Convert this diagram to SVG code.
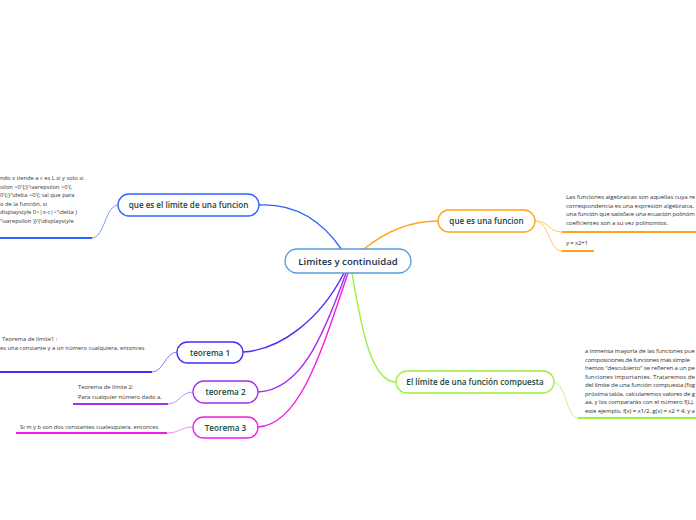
<svg xmlns="http://www.w3.org/2000/svg" width="696" height="520" viewBox="0 0 696 520">
<style>
.node{fill:#fff;stroke-width:1.3}
.lbl{font-family:"Open Sans",sans-serif;font-weight:600;font-size:8.1px;fill:#17483a;text-anchor:middle}
.sm{font-family:"Open Sans",sans-serif;font-size:5.8px;fill:#333}
.rt{font-size:6.1px}
.c{fill:none;stroke-linecap:round}
.ul{fill:none;stroke-width:2}
</style>
<rect width="696" height="520" fill="#fff"/>
<g id="connectors">
<path class="c" d="M259,205 C300,203 325,225 342,250" stroke="#2f63ff" stroke-width="1.4"/>
<path class="c" d="M364,249 C385,232 410,221 438,221" stroke="#ffa31a" stroke-width="1.4"/>
<path class="c" d="M352,273 C360,320 370,382 396,382" stroke="#9bf03c" stroke-width="1.4"/>
<path class="c" d="M344,273 C320,320 280,350 243,352" stroke="#4a2cf2" stroke-width="1.4"/>
<path class="c" d="M346,273 C322,340 300,390 258,392" stroke="#a62cf0" stroke-width="1.4"/>
<path class="c" d="M348,273 C322,350 300,425 258,427" stroke="#f01ee6" stroke-width="1.4"/>
<path class="c" d="M118,205 C105,205 105,238 92,238" stroke="#7b9bff" stroke-width="1"/>
<path class="c" d="M177,352 C165,352 164,372 152,372" stroke="#8a7bff" stroke-width="1"/>
<path class="c" d="M193,392 C180,392 180,404 168,404" stroke="#c98bff" stroke-width="1"/>
<path class="c" d="M193,427 C180,427 180,433 167,433" stroke="#f78bf2" stroke-width="1"/>
<path class="c" d="M535,221 C550,221 548,232 562,232" stroke="#ffc866" stroke-width="1"/>
<path class="c" d="M535,221 C550,221 548,251 562,251" stroke="#ffc866" stroke-width="1"/>
<path class="c" d="M554,382 C566,382 566,418 578,418" stroke="#c2f58a" stroke-width="1"/>
</g>
<g id="center">
<rect class="node" x="285" y="249" width="126" height="24" rx="12" stroke="#5a9be0"/>
<text x="348" y="264.5" class="lbl" style="font-size:9.6px;fill:#1b2c4c">Limites y continuidad</text>
</g>
<g id="n-limite">
<rect class="node" x="118" y="194" width="141" height="22" rx="11" stroke="#2f63ff"/>
<text x="188.5" y="208" class="lbl">que es el limite de una funcion</text>
<path class="ul" d="M0,238 H92" stroke="#2f63ff"/>
<text class="sm" x="0" y="180">ndo x tiende a c es L si y solo si</text>
<text class="sm" x="0" y="188.5">silon &gt;0'{;}'\varepsilon &gt;0'{,</text>
<text class="sm" x="0" y="197">0'{;}'\delta &gt;0'{; tal que para</text>
<text class="sm" x="0" y="205.5">o de la función, si</text>
<text class="sm" x="0" y="214">displaystyle 0&lt;|x-c|&lt;'\delta )</text>
<text class="sm" x="0" y="222.5">'\varepsilon )}'{\displaystyle</text>
</g>
<g id="n-funcion">
<rect class="node" x="438" y="210" width="97" height="22" rx="11" stroke="#ffa31a"/>
<text x="486.5" y="224" class="lbl">que es una funcion</text>
<path class="ul" d="M562,232 H696" stroke="#ffa31a"/>
<path class="ul" d="M562,251 H594" stroke="#ffa31a"/>
<text class="sm rt" x="566" y="199" textLength="129">Las funciones algebraicas son aquellas cuya re</text>
<text class="sm rt" x="566" y="207.5" textLength="128">correspondencia es una expresión algebraica,</text>
<text class="sm rt" x="566" y="216" textLength="129">una función que satisface una ecuación polinóm</text>
<text class="sm rt" x="566" y="224.5" textLength="102">coeficientes son a su vez polinomios.</text>
<text class="sm rt" x="566" y="245" textLength="22">y = x2+1</text>
</g>
<g id="n-compuesta">
<rect class="node" x="396" y="371" width="158" height="22" rx="11" stroke="#9bf03c"/>
<text x="475" y="385" class="lbl">El límite de una función compuesta</text>
<path class="ul" d="M578,418 H696" stroke="#9bf03c"/>
<text class="sm rt" x="585" y="353" textLength="110">a inmensa mayoría de las funciones pue</text>
<text class="sm rt" x="585" y="361.5" textLength="105">composiciones de funciones más simple</text>
<text class="sm rt" x="585" y="370" textLength="110">hemos "descubierto" se refieren a un pe</text>
<text class="sm rt" x="585" y="378.5" textLength="110">funciones importantes.   Trataremos de</text>
<text class="sm rt" x="585" y="387" textLength="110">del límite de una función compuesta (fog</text>
<text class="sm rt" x="585" y="395.5" textLength="110">próxima tabla, calcularemos valores de g</text>
<text class="sm rt" x="585" y="404" textLength="109">aa, y los compararás con el número f(L),</text>
<text class="sm rt" x="585" y="412.5" textLength="110">este ejemplo, f(x) = x1/2, g(x) = x2 + 4, y a</text>
</g>
<g id="n-t1">
<rect class="node" x="177" y="342" width="66" height="21" rx="10.5" stroke="#4a2cf2"/>
<text x="210" y="355.5" class="lbl">teorema 1</text>
<path class="ul" d="M0,372 H152" stroke="#4a2cf2"/>
<text class="sm" x="2" y="341">Teorema de límite1 :</text>
<text class="sm" x="0" y="350">es una constante y a un número cualquiera, entonces</text>
</g>
<g id="n-t2">
<rect class="node" x="193" y="381" width="65" height="22" rx="11" stroke="#a62cf0"/>
<text x="225.5" y="395" class="lbl">teorema 2</text>
<path class="ul" d="M73,404 H168" stroke="#a62cf0"/>
<text class="sm" x="78" y="389">Teorema de límite 2:</text>
<text class="sm" x="78" y="398.5">Para cualquier número dado a,</text>
</g>
<g id="n-t3">
<rect class="node" x="193" y="417" width="65" height="21" rx="10.5" stroke="#f01ee6"/>
<text x="225.5" y="430.5" class="lbl">Teorema 3</text>
<path class="ul" d="M16,433 H167" stroke="#f01ee6"/>
<text class="sm" x="20" y="428.5">Si m y b son dos constantes cualesquiera, entonces</text>
</g>
</svg>
